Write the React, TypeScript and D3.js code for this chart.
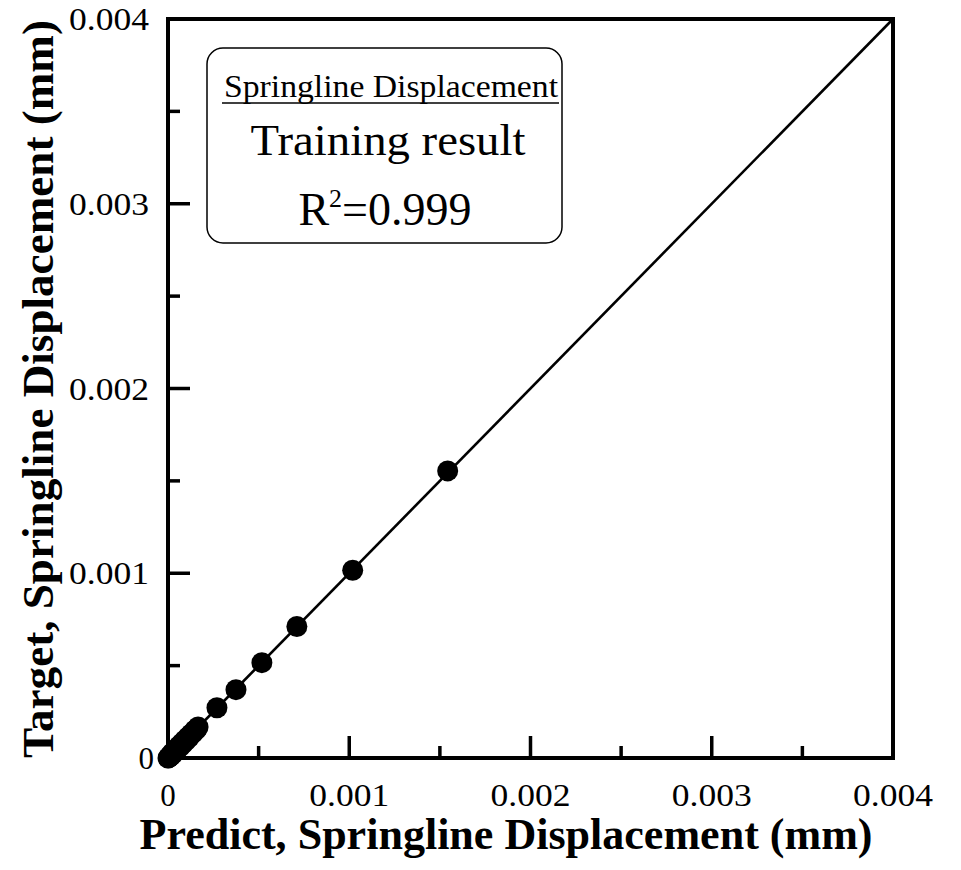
import React from "react";
import * as d3 from "d3";

const predictValues = [0, 0.000003, 0.000007, 0.000012, 0.000017, 0.000022, 0.000028, 0.000034, 0.00004, 0.000047, 0.000054, 0.000061, 0.000068, 0.000076, 0.000084, 0.000092, 0.0001, 0.000109, 0.000118, 0.000127, 0.000137, 0.000147, 0.000157, 0.000166, 0.00027, 0.000375, 0.000518, 0.000711, 0.001019, 0.001543];
const targetValues = [0, 0.000001, 0.000004, 0.000014, 0.000012, 0.000026, 0.000022, 0.000038, 0.000035, 0.000052, 0.000048, 0.000066, 0.000062, 0.00008, 0.000078, 0.000096, 0.000094, 0.000113, 0.000112, 0.00013, 0.000133, 0.00015, 0.000154, 0.000168, 0.000272, 0.00037, 0.000516, 0.000712, 0.001016, 0.001554];
const majorTicks = [0, 0.001, 0.002, 0.003, 0.004];
const minorTicks = [0.0005, 0.0015, 0.0025, 0.0035];
const tickLabels = ["0", "0.001", "0.002", "0.003", "0.004"];
const fitLine = [0, 0.004];

const W = 961;
const H = 870;
const FONT = "'Liberation Serif', 'Times New Roman', Times, serif";

export default function App() {
  const x = d3.scaleLinear().domain([0, 0.004]).range([168, 893]);
  const y = d3.scaleLinear().domain([0, 0.004]).range([758, 19]);
  const line = d3.line<number>().x((d) => x(d)).y((d) => y(d));
  const points = predictValues.map((p, i) => ({ p, t: targetValues[i] }));

  return (
    <svg width={W} height={H} style={{ position: "absolute", left: 0, top: 0, background: "#fff" }} fontFamily={FONT}>
      <rect x={0} y={0} width={W} height={H} fill="#fff" />
      {/* diagonal line */}
      <path d={line(fitLine) || ""} stroke="#000" strokeWidth={2.6} fill="none" />
      {/* points */}
      {points.map((d, i) => (
        <circle key={i} cx={x(d.p)} cy={y(d.t)} r={10.5} fill="#000" />
      ))}
      {/* frame */}
      <rect x={x(0)} y={y(0.004)} width={x(0.004) - x(0)} height={y(0) - y(0.004)} fill="none" stroke="#000" strokeWidth={4} />
      {/* x ticks */}
      {majorTicks.slice(1, 4).map((t) => (
        <line key={"xm" + t} x1={x(t)} x2={x(t)} y1={y(0)} y2={y(0) - 22} stroke="#000" strokeWidth={3.5} />
      ))}
      {minorTicks.map((t) => (
        <line key={"xn" + t} x1={x(t)} x2={x(t)} y1={y(0)} y2={y(0) - 12} stroke="#000" strokeWidth={3.5} />
      ))}
      {/* y ticks */}
      {majorTicks.slice(1, 4).map((t) => (
        <line key={"ym" + t} x1={x(0)} x2={x(0) + 22} y1={y(t)} y2={y(t)} stroke="#000" strokeWidth={3.5} />
      ))}
      {minorTicks.map((t) => (
        <line key={"yn" + t} x1={x(0)} x2={x(0) + 12} y1={y(t)} y2={y(t)} stroke="#000" strokeWidth={3.5} />
      ))}
      {/* x tick labels */}
      {majorTicks.map((t, i) => (
        <text key={"xl" + t} x={x(t)} y={806} fontSize={31} textAnchor="middle"
          {...(tickLabels[i].length > 1 ? { textLength: 80, lengthAdjust: "spacingAndGlyphs" } : {})}>
          {tickLabels[i]}
        </text>
      ))}
      {/* y tick labels */}
      {majorTicks.map((t, i) => (
        <text key={"yl" + t} x={tickLabels[i].length > 1 ? 149 : 154} y={y(t) + 11} fontSize={31} textAnchor="end"
          {...(tickLabels[i].length > 1 ? { textLength: 80, lengthAdjust: "spacingAndGlyphs" } : {})}>
          {tickLabels[i]}
        </text>
      ))}
      {/* axis titles */}
      <text x={506} y={849} fontSize={44} fontWeight="bold" textAnchor="middle" textLength={733} lengthAdjust="spacingAndGlyphs">
        Predict, Springline Displacement (mm)
      </text>
      <text transform="translate(53,389) rotate(-90)" fontSize={44} fontWeight="bold" textAnchor="middle" textLength={738} lengthAdjust="spacingAndGlyphs">
        Target, Springline Displacement (mm)
      </text>
      {/* inset box */}
      <rect x={207} y={48} width={355} height={195} rx={16} ry={16} fill="#fff" stroke="#000" strokeWidth={1.5} />
      <text x={391} y={97} fontSize={31} textAnchor="middle" textLength={334} lengthAdjust="spacingAndGlyphs">
        Springline Displacement
      </text>
      <line x1={222} x2={559} y1={103} y2={103} stroke="#000" strokeWidth={1.5} />
      <text x={388} y={155} fontSize={44} textAnchor="middle" textLength={275} lengthAdjust="spacingAndGlyphs">
        Training result
      </text>
      <text x={385} y={225} fontSize={46} textAnchor="middle">
        R<tspan fontSize={26} dy={-18}>2</tspan><tspan dy={18}>=0.999</tspan>
      </text>
    </svg>
  );
}
